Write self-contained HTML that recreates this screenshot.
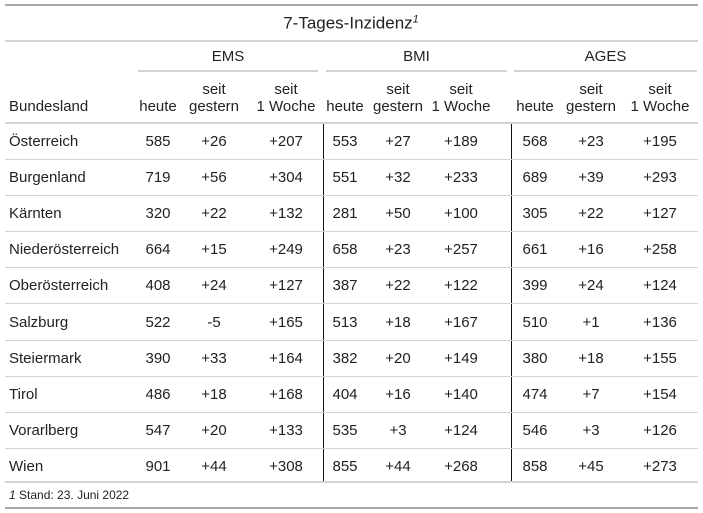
<!DOCTYPE html>
<html><head><meta charset="utf-8"><style>
body{margin:0;width:703px;height:513px;background:#fff;font-family:"Liberation Sans",Arial,sans-serif;color:#222;position:relative;overflow:hidden}
.a{position:absolute;white-space:nowrap;font-size:15px;line-height:17px}
.h{position:absolute;left:5px;width:693px}
.c{transform:translateX(-50%);text-align:center}
</style></head><body>
<div class="h" style="top:4px;height:2px;background:#a8a8a8"></div>
<div class="a c" style="left:351px;top:9px;font-size:17px;line-height:20px">7-Tages-Inzidenz<i><sup style="font-size:11px">1</sup></i></div>
<div class="h" style="top:40px;height:2px;background:#d3d3d3"></div>
<div class="h" style="top:122px;height:2px;background:#d3d3d3"></div>
<div class="h" style="top:481px;height:2px;background:#d3d3d3"></div>
<div class="a" style="left:9px;top:487px;font-size:12px"><i>1</i> Stand: 23. Juni 2022</div>
<div class="h" style="top:507px;height:2px;background:#a8a8a8"></div>
<div class="a" style="left:9px;top:98px">Bundesland</div>
<script>
const spanners=["EMS","BMI","AGES"];
const regions=["Österreich","Burgenland","Kärnten","Niederösterreich","Oberösterreich","Salzburg","Steiermark","Tirol","Vorarlberg","Wien"];
const emsValues=[["585","+26","+207"],["719","+56","+304"],["320","+22","+132"],["664","+15","+249"],["408","+24","+127"],["522","-5","+165"],["390","+33","+164"],["486","+18","+168"],["547","+20","+133"],["901","+44","+308"]];
const bmiValues=[["553","+27","+189"],["551","+32","+233"],["281","+50","+100"],["658","+23","+257"],["387","+22","+122"],["513","+18","+167"],["382","+20","+149"],["404","+16","+140"],["535","+3","+124"],["855","+44","+268"]];
const agesValues=[["568","+23","+195"],["689","+39","+293"],["305","+22","+127"],["661","+16","+258"],["399","+24","+124"],["510","+1","+136"],["380","+18","+155"],["474","+7","+154"],["546","+3","+126"],["858","+45","+273"]];
const groups=[emsValues,bmiValues,agesValues];
const colX=[[158,214,286],[345,398,461],[535,591,660]];
const spanL=[138,326,514],spanR=[318,507,697];
function add(cls,txt,x,y,name){const d=document.createElement('div');d.className=cls;d.innerHTML=txt;d.style.left=x+'px';d.style.top=y+'px';


document.body.appendChild(d);return d;}
spanners.forEach((s,g)=>{
  add('a c',s,(spanL[g]+spanR[g])/2,48,'spanner-'+s.toLowerCase());
  const l=document.createElement('div');l.style.cssText=`position:absolute;left:${spanL[g]}px;width:${spanR[g]-spanL[g]}px;top:70px;height:2px;background:#d3d3d3`;
  
  
  document.body.appendChild(l);
  add('a c','heute',colX[g][0],98,'col-header-heute');
  add('a c','seit<br>gestern',colX[g][1],81,'col-header-gestern');
  add('a c','seit<br>1 Woche',colX[g][2],81,'col-header-woche');
});
[323,511].forEach(x=>{const v=document.createElement('div');v.style.cssText=`position:absolute;left:${x}px;top:124px;width:1px;height:357px;background:#111`;


document.body.appendChild(v);});
regions.forEach((r,i)=>{
  const y=133+i*36.1;
  add('a',r,9,y,'row-label');
  groups.forEach((gv,g)=>gv[i].forEach((v,k)=>add('a c',v,colX[g][k],y,'cell')));
  if(i<regions.length-1){const l=document.createElement('div');l.className='h';l.style.top=(y+26)+'px';l.style.height='1px';l.style.background='#d3d3d3';
  
  
  document.body.appendChild(l);}
});
</script>
</body></html>
